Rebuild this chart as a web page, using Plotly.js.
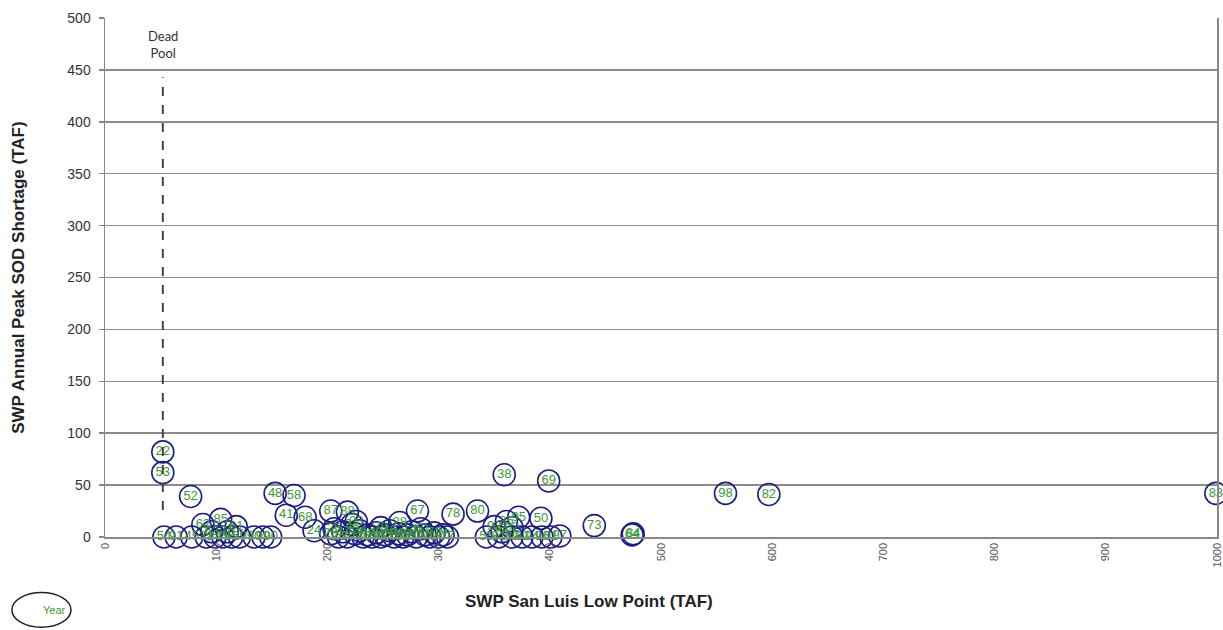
<!DOCTYPE html>
<html><head><meta charset="utf-8">
<script src="https://cdn.plot.ly/plotly-3.0.1.min.js"></script>
<style>html,body{margin:0;padding:0;background:#fff}#chart{width:1223px;height:630px}</style>
</head><body><div id="chart"></div>
<script>
// Year labels (water year, last two digits)
const years = [
  "22","53","52","48","58","41","68","85","24","87","88","67","78","80","38","69","50","95","35","73","84","97","98","82","83","28",
  "54","91","45","62","31","63","44","75","70","65","61","29","90","99","00",
  "23","25","26","27","30","32","33","34","36","37","39","40","42","43","46","47","49","51","56","57","59","60","66","71","72","74","76","77","79","03",
  "55","93","81","86","89","92","94","96","01","02",
  "64"
];
// SWP San Luis low point (TAF)
const lowPoint = [
  52,52,77,153,170,163,180,104,188,203,218,281,313,335,359,399,392,372,361,440,475,409,558,597,999,265,
  53,64,78,88,91,96,99,106,110,114,118,121,134,142,149,
  203,206,210,214,218,222,225,229,232,236,240,244,248,252,256,260,264,268,272,276,280,284,288,292,296,300,304,308,248,226,
  343,350,354,357,366,375,384,393,401,366,
  474
];
// SWP annual peak SOD shortage (TAF)
const shortage = [
  82,62,39,42,40,21,19,17,6,25,24,25,22,25,60,54,18,19,15,11,3,1,42,41,42,14,
  0,0,0,12,0,5,0,0,5,0,10,0,0,0,0,
  3,8,0,5,0,12,3,6,0,2,0,4,0,2,6,0,3,0,2,5,0,8,2,0,4,0,2,0,9,15,
  0,10,0,5,0,0,0,0,0,9,
  2
];
const xTicks = [0,100,200,300,400,500,600,700,800,900,1000];
const yTicks = [0,50,100,150,200,250,300,350,400,450,500];
const deadPool = {x: 52, yLow: 26, yHigh: 443, label: "Dead<br>Pool"};

const trace = {
  type: 'scatter',
  mode: 'markers+text',
  x: lowPoint,
  y: shortage,
  text: years,
  textposition: 'middle center',
  textfont: {family: 'Liberation Sans, Arial, sans-serif', size: 13, color: '#3a9b35'},
  marker: {size: 22, color: 'rgba(255,255,255,0)', line: {color: '#1c1c8a', width: 1.6}},
  cliponaxis: false,
  hoverinfo: 'skip'
};

const layout = {
  width: 1223, height: 630,
  margin: {l: 105, r: 6, t: 18, b: 93},
  paper_bgcolor: '#fff', plot_bgcolor: '#fff',
  showlegend: false,
  font: {family: 'Liberation Sans, Arial, sans-serif', color: '#333'},
  xaxis: {
    range: [0, 1000], tickvals: xTicks, ticktext: xTicks.map(String),
    tickangle: -90, tickfont: {size: 11, color: '#555'},
    showgrid: false, zeroline: false,
    showline: true, linecolor: '#888', linewidth: 1.5,
    ticks: '', fixedrange: true
  },
  yaxis: {
    range: [0, 500], tickvals: yTicks, ticktext: yTicks.map(String),
    tickfont: {size: 14, color: '#333'},
    showgrid: true, gridcolor: '#8c8c8c', gridwidth: 1.5,
    zeroline: false, showline: true, linecolor: '#888', linewidth: 1.5,
    mirror: true,
    ticks: 'outside', ticklen: 5, tickcolor: '#888', tickwidth: 1.5,
    ticklabelstandoff: 5, fixedrange: true
  },
  shapes: [
    {type: 'line', xref: 'x', yref: 'y', x0: deadPool.x, x1: deadPool.x, y0: deadPool.yLow, y1: deadPool.yHigh,
     line: {color: '#444', width: 2, dash: 'dash'}},
    {type: 'circle', xref: 'paper', yref: 'paper', x0: -0.0837, x1: -0.0306, y0: -0.107, y1: -0.174,
     line: {color: '#222', width: 1.5}}
  ],
  annotations: [
    {xref: 'x', yref: 'y', x: deadPool.x, y: 474, yanchor: 'middle', text: deadPool.label, showarrow: false,
     font: {size: 13, color: '#333', family: 'Lato, Open Sans, sans-serif'}, align: 'center'},
    {xref: 'paper', yref: 'paper', x: -0.0572, y: -0.1405, yanchor: 'middle', text: 'Year', showarrow: false,
     font: {size: 11, color: '#3a9b35'}},
    {xref: 'paper', yref: 'paper', x: 0.435, y: -0.125, yanchor: 'middle', text: '<b>SWP San Luis Low Point (TAF)</b>',
     showarrow: false, font: {size: 17, color: '#222'}},
    {xref: 'paper', yref: 'paper', x: -0.078, xanchor: 'center', y: 0.5, textangle: -90,
     text: '<b>SWP Annual Peak SOD Shortage (TAF)</b>', showarrow: false, font: {size: 17, color: '#222'}}
  ]
};

Plotly.newPlot('chart', [trace], layout, {displayModeBar: false, staticPlot: true});
</script>
</body></html>
